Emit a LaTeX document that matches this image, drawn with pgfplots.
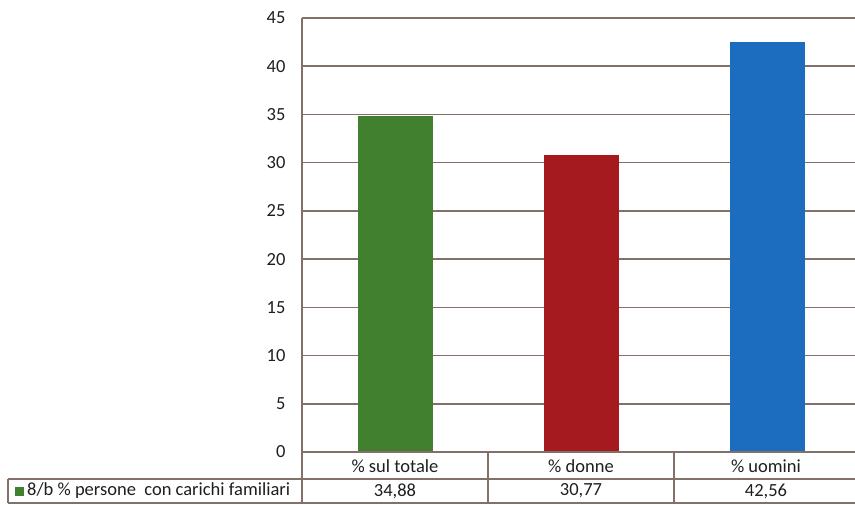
\documentclass[border=0pt]{standalone}
\usepackage{pgfplots}
\pgfplotsset{compat=1.18}
\usepackage{pgfplotstable}
\usepackage{fontspec}
\setmainfont{Carlito}

\definecolor{gridc}{RGB}{130,112,105}
\definecolor{cgreen}{RGB}{64,128,46}
\definecolor{cred}{RGB}{164,26,30}
\definecolor{cblue}{RGB}{28,108,192}
\definecolor{txt}{RGB}{30,30,30}

% share of people with family care duties
\pgfplotstableread{
idx value
0 34.88
1 30.77
2 42.56
}\datatable

\begin{document}
\begin{tikzpicture}[x=1pt,y=1pt]
\useasboundingbox (0,0) rectangle (855,504);
\clip (0,0) rectangle (855,504);

\begin{axis}[
  at={(302pt,52pt)}, anchor=south west,
  scale only axis, width=558pt, height=434pt,
  xmin=-0.5, xmax=2.5, ymin=0, ymax=45,
  ytick={0,5,...,45}, xtick=\empty,
  axis x line=none, axis y line*=left,
  y axis line style={gridc, line width=1.6pt, -},
  major tick length=0pt,
  ymajorgrids, grid style={gridc, line width=1.6pt},
  /pgf/number format/assume math mode=true,
  yticklabel style={font=\fontsize{18.5}{18.5}\selectfont, text=txt, xshift=-13pt},
  ybar, bar width=75pt, bar shift=0pt,
]
\addplot[fill=cgreen, draw=none, restrict x to domain=-0.1:0.1] table[x=idx, y=value] {\datatable};
\addplot[fill=cred, draw=none, restrict x to domain=0.9:1.1] table[x=idx, y=value] {\datatable};
\addplot[fill=cblue, draw=none, restrict x to domain=1.9:2.1] table[x=idx, y=value] {\datatable};
\end{axis}

% data table under the chart
\begin{scope}[gridc, line width=1.6pt]
  \draw (302,52) -- (860,52);
  \draw (8,25) -- (860,25);
  \draw (8,1) -- (860,1);
  \draw (8,25) -- (8,1);
  \foreach \x in {302,488,674} \draw (\x,52) -- (\x,1);
\end{scope}

\begin{scope}[every node/.style={font=\fontsize{18.5}{18.5}\selectfont, text=txt}]
\foreach \lab/\x in {{\% sul totale}/395, {\% donne}/581, {\% uomini}/766}
  \node at (\x,38) {\lab};

\foreach \r/\x in {0/395, 1/581, 2/766}{
  \pgfplotstablegetelem{\r}{value}\of\datatable
  \node at (\x,13)
    {\pgfmathprintnumber[fixed, precision=2, fixed zerofill, use comma, assume math mode=true]{\pgfplotsretval}};
}

\fill[cgreen] (15,8) rectangle (24,17);
\node[anchor=west, inner sep=0pt] at (27,13)
  {8/b \% persone\ \ con carichi familiari};
\end{scope}
\end{tikzpicture}
\end{document}
